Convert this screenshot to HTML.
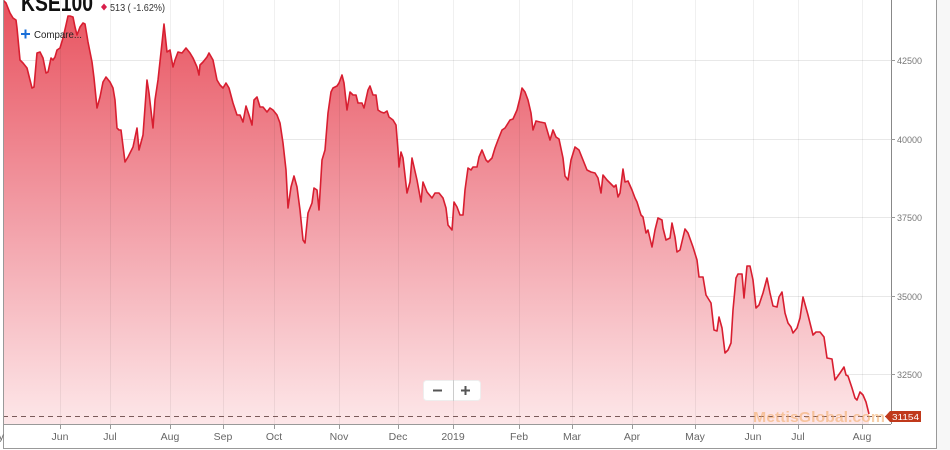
<!DOCTYPE html>
<html><head><meta charset="utf-8"><style>
html,body{margin:0;padding:0;background:#fff;}
svg{display:block;}
text{font-family:"Liberation Sans",sans-serif;}
</style></head><body>
<svg width="950" height="450" viewBox="0 0 950 450" xmlns="http://www.w3.org/2000/svg">
<defs>
<linearGradient id="g" gradientUnits="userSpaceOnUse" x1="0" y1="0" x2="0" y2="424">
<stop offset="0" stop-color="#e8525e"/>
<stop offset="0.5" stop-color="#f29ca5"/>
<stop offset="1" stop-color="#fde7e9"/>
</linearGradient>
<clipPath id="c"><rect x="3" y="0" width="888" height="424"/></clipPath>
</defs>
<rect x="0" y="0" width="950" height="450" fill="#fff"/>
<rect x="937" y="0" width="13" height="450" fill="#f7f7f7"/>
<!-- horizontal grid -->
<g stroke="#e8e8e8" stroke-width="1">
<line x1="3" y1="60.5" x2="891" y2="60.5"/>
<line x1="3" y1="139.5" x2="891" y2="139.5"/>
<line x1="3" y1="217.5" x2="891" y2="217.5"/>
<line x1="3" y1="296.5" x2="891" y2="296.5"/>
<line x1="3" y1="374.5" x2="891" y2="374.5"/>
</g>
<g clip-path="url(#c)">
<path fill="url(#g)" stroke="none" d="M3,0 L6,3 L10,13 L13,18 L16,20 L17,28 L20,60 L23,63 L27,68 L30,80 L32,88 L34,87 L37,53 L40,52 L43,58 L46,73 L48,72 L51,58 L53,60 L55,57 L57,50 L60,48 L63,38 L66,25 L68,16 L70,16 L73,17 L75,27 L77,35 L80,27 L83,23 L85,24 L88,42 L92,62 L94,78 L97,108 L100,97 L103,82 L106,77 L110,82 L113,88 L115,100 L117,128 L119,130 L121,130 L125,162 L128,157 L133,147 L137,128 L139,150 L143,135 L147,80 L149,93 L153,128 L155,100 L158,80 L162,43 L164,24 L167,52 L170,50 L173,67 L175,60 L178,52 L182,53 L186,48 L190,53 L193,58 L197,67 L199,75 L200,65 L203,62 L207,57 L209,53 L213,60 L217,80 L220,85 L223,88 L226,83 L229,88 L233,103 L237,115 L240,115 L243,122 L246,106 L249,115 L252,125 L254,100 L257,97 L260,107 L263,107 L267,112 L270,108 L273,110 L277,115 L280,123 L283,143 L286,170 L288,208 L291,187 L294,176 L297,187 L300,210 L303,240 L305,243 L308,213 L312,203 L314,188 L317,190 L319,210 L322,160 L325,150 L328,113 L331,92 L333,88 L337,86 L339,83 L342,75 L344,83 L347,110 L350,92 L353,95 L356,95 L358,103 L362,103 L364,108 L368,90 L370,86 L373,95 L376,95 L378,110 L381,112 L384,113 L387,111 L389,117 L393,120 L396,125 L398,150 L399,167 L401,152 L403,158 L407,193 L410,182 L412,158 L417,180 L421,202 L423,182 L427,192 L432,198 L435,193 L439,193 L443,198 L446,208 L448,225 L452,230 L454,202 L457,207 L460,215 L463,215 L465,190 L468,168 L471,170 L473,167 L477,167 L479,157 L482,150 L486,160 L488,162 L492,158 L495,148 L498,140 L502,130 L505,128 L510,120 L513,119 L517,110 L520,98 L522,88 L525,92 L528,100 L531,113 L533,130 L536,121 L540,122 L545,123 L550,140 L553,130 L556,137 L559,139 L563,158 L565,176 L568,180 L571,160 L575,147 L579,150 L583,160 L587,170 L591,172 L595,173 L598,178 L601,193 L603,175 L607,180 L611,184 L614,187 L616,185 L618,197 L620,193 L623,169 L625,182 L628,181 L632,190 L635,198 L637,202 L641,215 L643,217 L646,233 L648,230 L652,247 L655,230 L658,218 L662,220 L663,228 L666,240 L670,238 L672,223 L675,237 L677,252 L680,250 L685,229 L688,233 L693,247 L697,260 L699,277 L703,277 L706,295 L711,303 L714,330 L717,331 L719,317 L722,328 L725,353 L728,350 L731,343 L733,310 L736,278 L738,274 L742,274 L744,298 L747,266 L750,266 L753,280 L756,308 L759,305 L763,293 L767,278 L770,293 L773,306 L777,307 L779,297 L782,292 L785,313 L788,323 L791,327 L793,333 L797,328 L800,318 L803,297 L808,315 L813,335 L816,332 L820,332 L824,337 L827,358 L832,359 L835,380 L840,373 L844,367 L846,375 L848,376 L852,388 L855,398 L857,400 L860,392 L863,395 L866,402 L869,414 L869,424 L3,424 Z"/>
<!-- vertical grid -->
<g stroke="#000" stroke-opacity="0.06" stroke-width="1">
<line x1="60.5" y1="0" x2="60.5" y2="424"/><line x1="110.5" y1="0" x2="110.5" y2="424"/><line x1="170.5" y1="0" x2="170.5" y2="424"/><line x1="223.5" y1="0" x2="223.5" y2="424"/><line x1="274.5" y1="0" x2="274.5" y2="424"/><line x1="339.5" y1="0" x2="339.5" y2="424"/><line x1="398.5" y1="0" x2="398.5" y2="424"/><line x1="453.5" y1="0" x2="453.5" y2="424"/><line x1="519.5" y1="0" x2="519.5" y2="424"/><line x1="572.5" y1="0" x2="572.5" y2="424"/><line x1="632.5" y1="0" x2="632.5" y2="424"/><line x1="695.5" y1="0" x2="695.5" y2="424"/><line x1="753.5" y1="0" x2="753.5" y2="424"/><line x1="798.5" y1="0" x2="798.5" y2="424"/><line x1="862.5" y1="0" x2="862.5" y2="424"/>
</g>
<path fill="none" stroke="#d81e30" stroke-width="1.6" stroke-linejoin="round" d="M3,0 L6,3 L10,13 L13,18 L16,20 L17,28 L20,60 L23,63 L27,68 L30,80 L32,88 L34,87 L37,53 L40,52 L43,58 L46,73 L48,72 L51,58 L53,60 L55,57 L57,50 L60,48 L63,38 L66,25 L68,16 L70,16 L73,17 L75,27 L77,35 L80,27 L83,23 L85,24 L88,42 L92,62 L94,78 L97,108 L100,97 L103,82 L106,77 L110,82 L113,88 L115,100 L117,128 L119,130 L121,130 L125,162 L128,157 L133,147 L137,128 L139,150 L143,135 L147,80 L149,93 L153,128 L155,100 L158,80 L162,43 L164,24 L167,52 L170,50 L173,67 L175,60 L178,52 L182,53 L186,48 L190,53 L193,58 L197,67 L199,75 L200,65 L203,62 L207,57 L209,53 L213,60 L217,80 L220,85 L223,88 L226,83 L229,88 L233,103 L237,115 L240,115 L243,122 L246,106 L249,115 L252,125 L254,100 L257,97 L260,107 L263,107 L267,112 L270,108 L273,110 L277,115 L280,123 L283,143 L286,170 L288,208 L291,187 L294,176 L297,187 L300,210 L303,240 L305,243 L308,213 L312,203 L314,188 L317,190 L319,210 L322,160 L325,150 L328,113 L331,92 L333,88 L337,86 L339,83 L342,75 L344,83 L347,110 L350,92 L353,95 L356,95 L358,103 L362,103 L364,108 L368,90 L370,86 L373,95 L376,95 L378,110 L381,112 L384,113 L387,111 L389,117 L393,120 L396,125 L398,150 L399,167 L401,152 L403,158 L407,193 L410,182 L412,158 L417,180 L421,202 L423,182 L427,192 L432,198 L435,193 L439,193 L443,198 L446,208 L448,225 L452,230 L454,202 L457,207 L460,215 L463,215 L465,190 L468,168 L471,170 L473,167 L477,167 L479,157 L482,150 L486,160 L488,162 L492,158 L495,148 L498,140 L502,130 L505,128 L510,120 L513,119 L517,110 L520,98 L522,88 L525,92 L528,100 L531,113 L533,130 L536,121 L540,122 L545,123 L550,140 L553,130 L556,137 L559,139 L563,158 L565,176 L568,180 L571,160 L575,147 L579,150 L583,160 L587,170 L591,172 L595,173 L598,178 L601,193 L603,175 L607,180 L611,184 L614,187 L616,185 L618,197 L620,193 L623,169 L625,182 L628,181 L632,190 L635,198 L637,202 L641,215 L643,217 L646,233 L648,230 L652,247 L655,230 L658,218 L662,220 L663,228 L666,240 L670,238 L672,223 L675,237 L677,252 L680,250 L685,229 L688,233 L693,247 L697,260 L699,277 L703,277 L706,295 L711,303 L714,330 L717,331 L719,317 L722,328 L725,353 L728,350 L731,343 L733,310 L736,278 L738,274 L742,274 L744,298 L747,266 L750,266 L753,280 L756,308 L759,305 L763,293 L767,278 L770,293 L773,306 L777,307 L779,297 L782,292 L785,313 L788,323 L791,327 L793,333 L797,328 L800,318 L803,297 L808,315 L813,335 L816,332 L820,332 L824,337 L827,358 L832,359 L835,380 L840,373 L844,367 L846,375 L848,376 L852,388 L855,398 L857,400 L860,392 L863,395 L866,402 L869,414"/>
</g>
<!-- dashed last-price line -->
<line x1="3" y1="416.5" x2="886" y2="416.5" stroke="#7a5a5a" stroke-width="1" stroke-dasharray="5,4"/>
<!-- watermark -->
<text x="753" y="422" font-size="15" font-weight="bold" fill="#f2a860" fill-opacity="0.55" textLength="132" lengthAdjust="spacingAndGlyphs">MettisGlobal.com</text>
<!-- axes & frame -->
<line x1="3" y1="424.5" x2="891" y2="424.5" stroke="#999" stroke-width="1"/>
<line x1="891.5" y1="0" x2="891.5" y2="424" stroke="#888" stroke-width="1"/>
<line x1="3.5" y1="0" x2="3.5" y2="448" stroke="#999" stroke-width="1"/>
<line x1="3" y1="448.5" x2="937" y2="448.5" stroke="#999" stroke-width="1"/>
<line x1="936.5" y1="0" x2="936.5" y2="449" stroke="#999" stroke-width="1"/>
<!-- y ticks -->
<g stroke="#999" stroke-width="1">
<line x1="891" y1="60.5" x2="895" y2="60.5"/><line x1="891" y1="139.5" x2="895" y2="139.5"/><line x1="891" y1="217.5" x2="895" y2="217.5"/><line x1="891" y1="296.5" x2="895" y2="296.5"/><line x1="891" y1="374.5" x2="895" y2="374.5"/>
</g>
<g font-size="9" fill="#777">
<text x="897" y="64">42500</text>
<text x="897" y="143">40000</text>
<text x="897" y="221">37500</text>
<text x="897" y="300">35000</text>
<text x="897" y="378">32500</text>
</g>
<!-- x ticks -->
<g stroke="#999" stroke-width="1">
<line x1="60.5" y1="424" x2="60.5" y2="429"/><line x1="110.5" y1="424" x2="110.5" y2="429"/><line x1="170.5" y1="424" x2="170.5" y2="429"/><line x1="223.5" y1="424" x2="223.5" y2="429"/><line x1="274.5" y1="424" x2="274.5" y2="429"/><line x1="339.5" y1="424" x2="339.5" y2="429"/><line x1="398.5" y1="424" x2="398.5" y2="429"/><line x1="453.5" y1="424" x2="453.5" y2="429"/><line x1="519.5" y1="424" x2="519.5" y2="429"/><line x1="572.5" y1="424" x2="572.5" y2="429"/><line x1="632.5" y1="424" x2="632.5" y2="429"/><line x1="695.5" y1="424" x2="695.5" y2="429"/><line x1="753.5" y1="424" x2="753.5" y2="429"/><line x1="798.5" y1="424" x2="798.5" y2="429"/><line x1="862.5" y1="424" x2="862.5" y2="429"/>
</g>
<g font-size="10.5" fill="#666" text-anchor="middle">
<text x="-6" y="440">May</text>
<text x="60" y="440">Jun</text>
<text x="110" y="440">Jul</text>
<text x="170" y="440">Aug</text>
<text x="223" y="440">Sep</text>
<text x="274" y="440">Oct</text>
<text x="339" y="440">Nov</text>
<text x="398" y="440">Dec</text>
<text x="453" y="440">2019</text>
<text x="519" y="440">Feb</text>
<text x="572" y="440">Mar</text>
<text x="632" y="440">Apr</text>
<text x="695" y="440">May</text>
<text x="753" y="440">Jun</text>
<text x="798" y="440">Jul</text>
<text x="862" y="440">Aug</text>
</g>
<!-- last price label -->
<path d="M885,416.5 L890,411 L921,411 L921,422 L890,422 Z" fill="#c0391b"/>
<text x="892" y="420" font-size="8.5" fill="#fff" textLength="27" lengthAdjust="spacingAndGlyphs">31154</text>
<!-- zoom buttons -->
<rect x="423.5" y="380.5" width="57" height="20" rx="3" fill="#fff" stroke="#eee" stroke-width="1"/>
<line x1="453.5" y1="380" x2="453.5" y2="401" stroke="#ccc"/>
<rect x="433" y="389.5" width="9" height="2" fill="#555"/>
<rect x="461" y="389.5" width="9" height="2" fill="#555"/>
<rect x="464.5" y="386" width="2" height="9" fill="#555"/>
<!-- header -->
<text x="21" y="11" font-size="24" font-weight="bold" fill="#111" textLength="72" lengthAdjust="spacingAndGlyphs">KSE100</text>
<path d="M104,3.5 L107,7 L104,10.5 L101,7 Z" fill="#d81e4a"/>
<text x="110" y="11" font-size="10" fill="#333" textLength="55" lengthAdjust="spacingAndGlyphs">513 ( -1.62%)</text>
<rect x="21" y="33" width="9" height="2" fill="#1a6fd8"/>
<rect x="24.5" y="29.5" width="2" height="9" fill="#1a6fd8"/>
<text x="34" y="38" font-size="10" fill="#222" textLength="48" lengthAdjust="spacingAndGlyphs">Compare...</text>
</svg>
</body></html>
